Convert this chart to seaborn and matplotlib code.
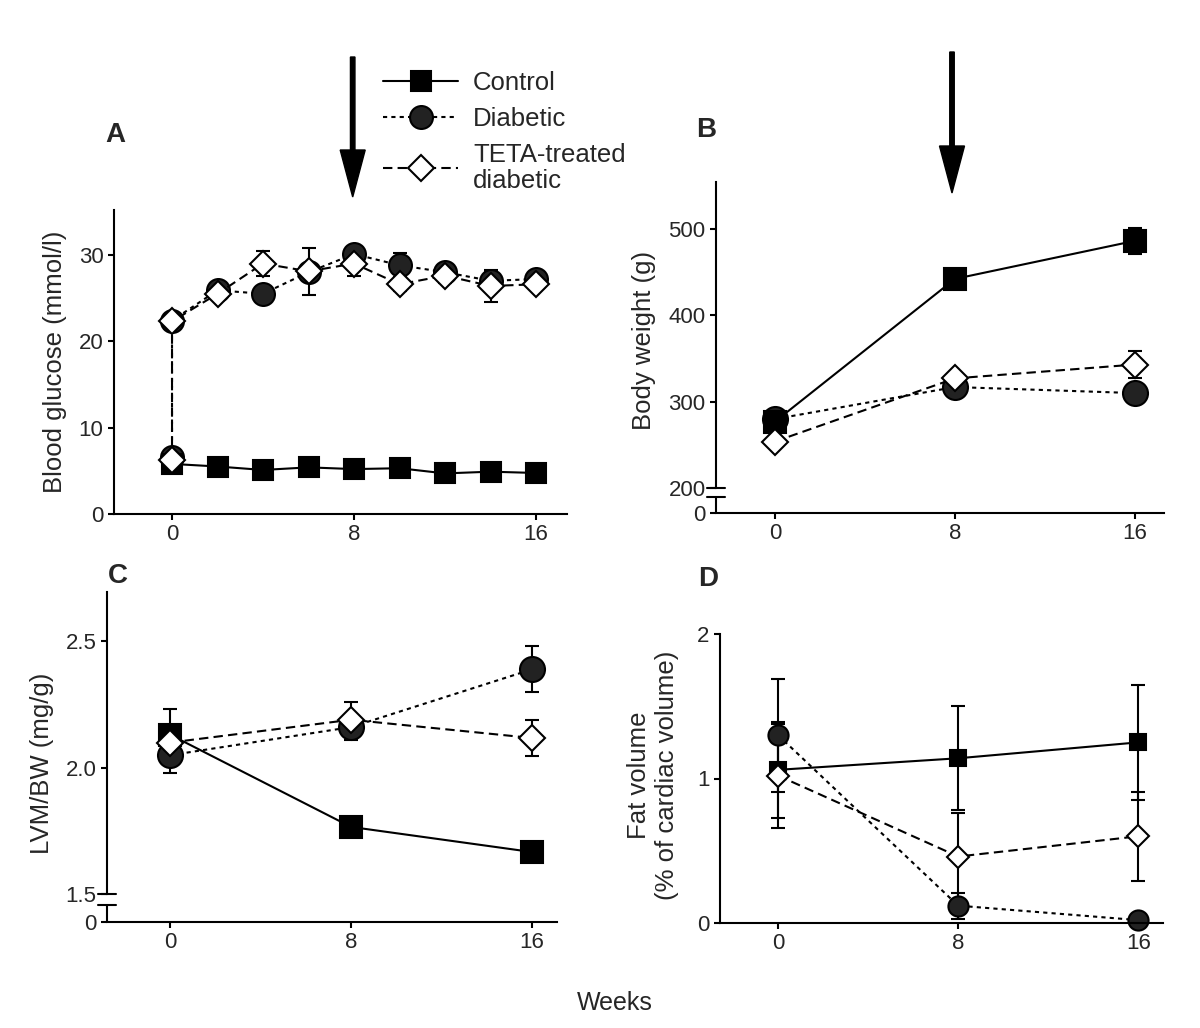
import seaborn as sns
import matplotlib.pyplot as plt
import matplotlib.transforms as mtransforms

sns.set_style("ticks")
plt.rcParams["font.family"] = ["Liberation Sans", "DejaVu Sans"]

W, H = 1200, 1028

# A: blood glucose (two readings at week 0 for the diabetic groups: before / after STZ)
weeks_a = [0, 2, 4, 6, 8, 10, 12, 14, 16]
weeks_a_diab = [0, 0, 2, 4, 6, 8, 10, 12, 14, 16]
glucose_control = [5.8, 5.5, 5.1, 5.4, 5.2, 5.3, 4.7, 4.9, 4.75]
glucose_control_err = [0.4, 0.3, 0.3, 0.3, 0.3, 0.3, 0.3, 0.3, 0.3]
glucose_diabetic = [6.6, 22.4, 25.9, 25.5, 28.0, 30.1, 28.8, 28.0, 27.0, 27.2]
glucose_diabetic_err = [0.5, 0.8, 0.6, 0.9, 1.0, 0.8, 1.4, 0.8, 1.0, 0.6]
glucose_teta = [6.2, 22.3, 25.5, 29.0, 28.1, 29.0, 26.6, 27.6, 26.4, 26.6]
glucose_teta_err = [0.5, 0.6, 0.6, 1.5, 2.7, 1.5, 0.8, 0.8, 1.8, 0.6]

# B: body weight
weeks = [0, 8, 16]
bw_control = [277, 442, 486]
bw_control_err = [10, 8, 15]
bw_diabetic = [280, 317, 310]
bw_diabetic_err = [6, 6, 6]
bw_teta = [254, 327, 343]
bw_teta_err = [5, 7, 16]

# C: LVM/BW
lvm_control = [2.13, 1.766, 1.667]
lvm_control_err = [0.10, 0.03, 0.04]
lvm_diabetic = [2.049, 2.16, 2.388]
lvm_diabetic_err = [0.07, 0.05, 0.09]
lvm_teta = [2.099, 2.189, 2.117]
lvm_teta_err = [0.05, 0.07, 0.07]

# D: fat volume
fat_control = [1.06, 1.14, 1.25]
fat_control_err = [0.33, 0.36, 0.40]
fat_diabetic = [1.30, 0.12, 0.02]
fat_diabetic_err = [0.39, 0.09, 0.03]
fat_teta = [1.02, 0.46, 0.60]
fat_teta_err = [0.36, 0.30, 0.31]

group_labels = ["Control", "Diabetic", "TETA-treated\ndiabetic"]
styles = [
    dict(marker="s", linestyle="-", markerfacecolor="black"),
    dict(marker="o", linestyle=(0, (2, 2)), markerfacecolor="#222222"),
    dict(marker="D", linestyle=(0, (4.5, 2.5)), markerfacecolor="white"),
]
draw_order = [1, 0, 2]  # diabetic underneath control, TETA on top

fig = plt.figure(figsize=(W / 100, H / 100), dpi=100)


def px_axes(left, top, right, bottom):
    return fig.add_axes([left / W, 1 - bottom / H, (right - left) / W, (bottom - top) / H])


def draw_panel(ax, xs, ys, errs, sizes):
    lines = [None, None, None]
    for i in draw_order:
        ax.errorbar(xs[i], ys[i], yerr=errs[i], fmt="none", ecolor="black", elinewidth=1.5,
                    capsize=5, capthick=1.5, zorder=1, clip_on=False)
        sns.lineplot(x=xs[i], y=ys[i], ax=ax, color="black", estimator=None, sort=False,
                     linewidth=1.5, markersize=sizes[i], markeredgecolor="black",
                     markeredgewidth=1.5, clip_on=False, **styles[i])
        lines[i] = ax.lines[-1]
    ax.set_xticks([0, 8, 16])
    ax.tick_params(labelsize=16, length=4.5, width=1.5, color="black", pad=3)
    for s in ["left", "bottom"]:
        ax.spines[s].set_linewidth(1.5)
        ax.spines[s].set_color("black")
    sns.despine(ax=ax)
    ax.set_xlabel("")
    return lines


def axis_break(ax, y_upper, y_lower):
    y0, y1 = ax.get_ylim()
    ax.spines["left"].set_bounds(y_upper, y1)
    trans = mtransforms.blended_transform_factory(ax.transAxes, ax.transData)
    half = 9 / ax.bbox.width
    for yy in (y_upper, y_lower):
        ax.plot([-half, half], [yy, yy], transform=trans, color="black", lw=1.5, clip_on=False)
    ax.plot([0, 0], [y0, y_lower], transform=trans, color="black", lw=1.5, clip_on=False)


# Panel A
ax_a = px_axes(114, 210, 567, 514)
legend_lines = draw_panel(
    ax_a, [weeks_a, weeks_a_diab, weeks_a_diab],
    [glucose_control, glucose_diabetic, glucose_teta],
    [glucose_control_err, glucose_diabetic_err, glucose_teta_err],
    [15, 16.5, 13])
ax_a.set_xlim(-2.55, 17.36)
ax_a.set_ylim(0, 35.2)
ax_a.set_yticks([0, 10, 20, 30])
ax_a.set_ylabel("Blood glucose (mmol/l)", fontsize=18.5)
ax_a.yaxis.set_label_coords(-0.104, 0.5)

# Panel B
ax_b = px_axes(716, 182, 1164, 513)
draw_panel(ax_b, [weeks] * 3, [bw_control, bw_diabetic, bw_teta],
           [bw_control_err, bw_diabetic_err, bw_teta_err], [15.5, 18, 13.5])
ax_b.set_xlim(-2.62, 17.29)
ax_b.set_ylim(171.4, 554)
ax_b.set_yticks([171.4, 200, 300, 400, 500])
ax_b.set_yticklabels(["0", "200", "300", "400", "500"])
axis_break(ax_b, 200, 190)
ax_b.set_ylabel("Body weight (g)", fontsize=18.5)
ax_b.yaxis.set_label_coords(-0.134, 0.52)

# Panel C
ax_c = px_axes(107, 592, 557, 922)
draw_panel(ax_c, [weeks] * 3, [lvm_control, lvm_diabetic, lvm_teta],
           [lvm_control_err, lvm_diabetic_err, lvm_teta_err], [16, 18, 13.5])
ax_c.set_xlim(-2.79, 17.1)
ax_c.set_ylim(1.391, 2.693)
ax_c.set_yticks([1.391, 1.5, 2.0, 2.5])
ax_c.set_yticklabels(["0", "1.5", "2.0", "2.5"])
axis_break(ax_c, 1.5, 1.46)
ax_c.set_ylabel("LVM/BW (mg/g)", fontsize=18.5)
ax_c.yaxis.set_label_coords(-0.118, 0.48)

# Panel D
ax_d = px_axes(720, 634, 1163, 923)
draw_panel(ax_d, [weeks] * 3, [fat_control, fat_diabetic, fat_teta],
           [fat_control_err, fat_diabetic_err, fat_teta_err], [12, 14.5, 11])
ax_d.set_xlim(-2.58, 17.1)
ax_d.set_ylim(0, 2)
ax_d.set_yticks([0, 1, 2])
ax_d.set_ylabel("Fat volume\n(% of cardiac volume)", fontsize=18.5)
ax_d.yaxis.set_label_coords(-0.093, 0.51)

# panel letters, common x label
for letter, (px, py) in zip("ABCD", [(115, 135), (706, 130), (118, 576), (708, 579)]):
    fig.text(px / W, 1 - py / H, letter, fontsize=20, fontweight="bold", ha="center", va="center")
fig.text(615 / W, 1 - 1003 / H, "Weeks", fontsize=18, ha="center", va="center")

# treatment-start arrows
overlay = fig.add_axes([0, 0, 1, 1])
overlay.set_xlim(0, W)
overlay.set_ylim(H, 0)
overlay.axis("off")
for ax_x, y_top, y_tip in [(352.7, 57, 197), (952, 52, 193)]:
    overlay.arrow(ax_x, y_top, 0, y_tip - y_top, width=4.5, head_width=25, head_length=47,
                  length_includes_head=True, color="black")

leg = fig.legend(legend_lines, group_labels, loc="upper left", bbox_to_anchor=(383 / W, 1 - 71 / H),
                 frameon=False, fontsize=18.5, handlelength=2.92, handletextpad=0.58,
                 labelspacing=0.47, borderpad=0, borderaxespad=0, numpoints=1)
leg.get_texts()[2].set_linespacing(1.08)

plt.savefig("out.png", dpi=100)
